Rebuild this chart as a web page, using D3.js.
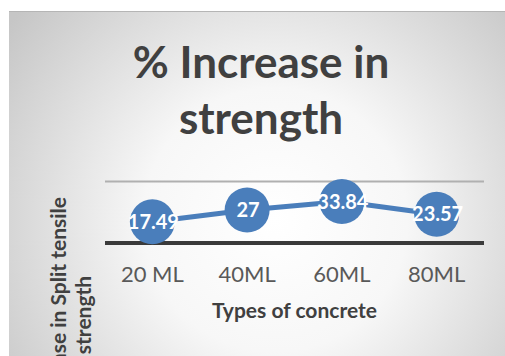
<!DOCTYPE html>
<html>
<head>
<meta charset="utf-8">
<script src="https://cdn.jsdelivr.net/npm/d3@7"></script>
<style>
  html, body { margin: 0; padding: 0; background: #ffffff; }
  svg { display: block; }
  text { font-family: Lato, "Open Sans", sans-serif; }
</style>
</head>
<body>
<div id="chart"></div>
<script>
// ---- data ----
const categories = ["20 ML", "40ML", "60ML", "80ML"];
const values = [17.49, 27, 33.84, 23.57];
const yTicks = [0, 50];
const titleLines = ["% Increase in", "strength"];
const xTitle = "Types of concrete";
const yTitleLines = ["% Increase in Split tensile", "strength"];

const W = 505, H = 356;
const svg = d3.select("#chart").append("svg").attr("width", W).attr("height", H);

// background panel with radial gradient
const defs = svg.append("defs");
const grad = defs.append("radialGradient").attr("id", "bg")
  .attr("gradientUnits", "userSpaceOnUse")
  .attr("cx", 275).attr("cy", 220).attr("r", 330);
grad.append("stop").attr("offset", "0%").attr("stop-color", "#ffffff");
grad.append("stop").attr("offset", "40%").attr("stop-color", "#f7f7f7");
grad.append("stop").attr("offset", "100%").attr("stop-color", "#c6c6c6");

svg.append("rect").attr("x", 9).attr("y", 11).attr("width", W - 9).attr("height", H - 11)
  .attr("fill", "url(#bg)");
svg.append("line").attr("x1", 9).attr("x2", W).attr("y1", 11.5).attr("y2", 11.5)
  .attr("stroke", "#b5b5b5").attr("stroke-width", 1);

// scales
const plot = { left: 105, right: 484, top: 181.5, bottom: 243.5 };
const x = d3.scaleBand().domain(categories).range([plot.left, plot.right]);
const y = d3.scaleLinear().domain([0, 50]).range([plot.bottom, plot.top]);

// gridline at top
svg.selectAll("line.grid").data(yTicks.filter(d => d > 0)).enter().append("line")
  .attr("class", "grid")
  .attr("x1", plot.left).attr("x2", plot.right)
  .attr("y1", d => y(d)).attr("y2", d => y(d))
  .attr("stroke", "#b0b0b0").attr("stroke-width", 2);

// x axis line (thick)
svg.append("line")
  .attr("x1", plot.left).attr("x2", plot.right)
  .attr("y1", y(0) - 0.5).attr("y2", y(0) - 0.5)
  .attr("stroke", "#3a3a3a").attr("stroke-width", 4);

// x axis tick labels
const xAxis = d3.axisBottom(x).tickSize(0).tickPadding(0);
const gx = svg.append("g").attr("transform", "translate(0,282)").call(xAxis);
gx.select(".domain").remove();
gx.selectAll("text")
  .attr("dy", 0).attr("y", 0)
  .style("font-size", "22px").style("font-weight", "400")
  .attr("fill", "#595959");

// line
const cx = d => x(d.c) + x.bandwidth() / 2;
const pts = categories.map((c, i) => ({ c, v: values[i] }));
svg.append("path").datum(pts)
  .attr("d", d3.line().x(cx).y(d => y(d.v)))
  .attr("fill", "none").attr("stroke", "#4a7ebb").attr("stroke-width", 5)
  .attr("stroke-linejoin", "round");

// markers
svg.selectAll("circle.pt").data(pts).enter().append("circle")
  .attr("class", "pt")
  .attr("cx", cx).attr("cy", d => y(d.v)).attr("r", 22.5)
  .attr("fill", "#4a7ebb");

// data labels
svg.selectAll("text.lbl").data(pts).enter().append("text")
  .attr("class", "lbl")
  .attr("x", d => cx(d) + 1).attr("y", d => y(d.v) + 7)
  .attr("text-anchor", "middle")
  .style("font-size", "20px").style("font-weight", "700")
  .attr("fill", "#ffffff")
  .text(d => d.v);

// title
svg.selectAll("text.title").data(titleLines).enter().append("text")
  .attr("class", "title")
  .attr("x", 261).attr("y", (d, i) => 78 + i * 56)
  .attr("text-anchor", "middle")
  .style("font-size", "44px").style("font-weight", "700")
  .attr("fill", "#404040")
  .text(d => d);

// x axis title
svg.append("text")
  .attr("x", (plot.left + plot.right) / 2).attr("y", 318)
  .attr("text-anchor", "middle")
  .style("font-size", "21px").style("font-weight", "700")
  .attr("fill", "#404040")
  .text(xTitle);

// y axis title (rotated, two lines; cut off at the bottom as in the reference)
svg.selectAll("text.ytitle").data(yTitleLines).enter().append("text")
  .attr("class", "ytitle")
  .attr("transform", (d, i) => `translate(${66 + i * 25},315) rotate(-90)`)
  .attr("text-anchor", "middle")
  .style("font-size", "21px").style("font-weight", "700")
  .attr("fill", "#404040")
  .text(d => d);
</script>
</body>
</html>
